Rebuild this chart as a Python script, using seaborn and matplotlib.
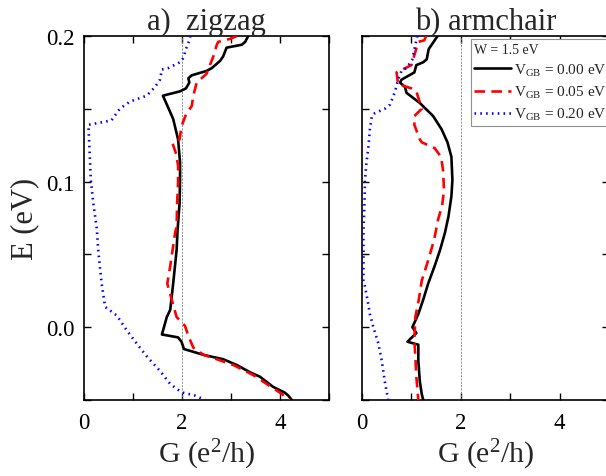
import matplotlib
matplotlib.use("Agg")
import matplotlib.pyplot as plt
from matplotlib.ticker import MultipleLocator, FixedLocator, FormatStrFormatter
import seaborn as sns
import pandas as pd

# ---- zigzag grain boundary: conductance G (e^2/h) versus energy E (eV) ----
zz_e_000 = [0.200, 0.196, 0.194, 0.192, 0.186, 0.183, 0.178, 0.176, 0.173, 0.171,
            0.168, 0.164, 0.162, 0.159, 0.153, 0.143, 0.129, 0.113, 0.101, 0.085,
            0.067, 0.053, 0.030, 0.012, 0.007, -0.005, -0.007, -0.010, -0.015, -0.019,
            -0.022, -0.026, -0.031, -0.034, -0.041, -0.045, -0.047, -0.050]
zz_g_000 = [3.35, 3.29, 3.22, 2.91, 2.84, 2.78, 2.61, 2.50, 2.20, 2.13,
            2.15, 2.08, 1.96, 1.61, 1.69, 1.82, 1.92, 1.96, 1.96, 1.95,
            1.91, 1.89, 1.82, 1.76, 1.69, 1.59, 1.92, 1.99, 2.04, 2.44,
            2.84, 3.12, 3.39, 3.59, 3.86, 4.10, 4.17, 4.24]

zz_e_005 = [0.200, 0.198, 0.196, 0.194, 0.186, 0.180, 0.174, 0.168, 0.159, 0.152,
            0.146, 0.138, 0.129, 0.126, 0.119, 0.111, 0.099, 0.085, 0.069, 0.065,
            0.042, 0.030, 0.019, 0.007, 0.001, -0.006, -0.014, -0.019, -0.022, -0.026,
            -0.033, -0.039, -0.045, -0.050]
zz_g_005 = [3.12, 2.98, 2.74, 2.71, 2.64, 2.57, 2.50, 2.30, 2.23, 2.20,
            2.08, 1.99, 1.95, 1.81, 1.88, 1.92, 1.92, 1.90, 1.89, 1.86,
            1.76, 1.70, 1.79, 1.89, 2.06, 2.13, 2.23, 2.44, 2.71, 3.05,
            3.46, 3.73, 4.00, 4.20]

zz_e_020 = [0.200, 0.197, 0.191, 0.185, 0.182, 0.178, 0.177, 0.170, 0.165, 0.159,
            0.155, 0.150, 0.142, 0.139, 0.124, 0.101, 0.085, 0.068, 0.053, 0.030,
            0.014, 0.008, -0.002, -0.011, -0.020, -0.030, -0.039, -0.043, -0.045, -0.047,
            -0.050]
zz_g_020 = [2.17, 2.15, 2.08, 2.03, 1.96, 1.72, 1.59, 1.55, 1.45, 1.28,
            0.94, 0.73, 0.56, 0.09, 0.11, 0.14, 0.19, 0.26, 0.29, 0.36,
            0.43, 0.67, 0.87, 1.07, 1.28, 1.55, 1.76, 1.92, 2.03, 2.27,
            2.47]

# ---- armchair grain boundary ----
ac_e_000 = [0.200, 0.194, 0.191, 0.184, 0.182, 0.180, 0.175, 0.170, 0.168, 0.165,
            0.161, 0.154, 0.145, 0.136, 0.127, 0.117, 0.101, 0.090, 0.076, 0.065,
            0.053, 0.042, 0.030, 0.019, 0.009, 0.000, -0.004, -0.010, -0.012, -0.023,
            -0.037, -0.046, -0.050]
ac_g_000 = [1.53, 1.41, 1.35, 1.31, 1.24, 1.10, 1.06, 0.80, 0.77, 0.87,
            0.90, 1.17, 1.44, 1.61, 1.73, 1.81, 1.83, 1.81, 1.75, 1.68,
            1.58, 1.47, 1.34, 1.24, 1.14, 1.02, 1.10, 0.92, 1.14, 1.14,
            1.17, 1.21, 1.24]

ac_e_005 = [0.200, 0.197, 0.196, 0.188, 0.180, 0.175, 0.167, 0.164, 0.162, 0.150,
            0.145, 0.139, 0.129, 0.127, 0.123, 0.117, 0.108, 0.094, 0.083, 0.074,
            0.060, 0.046, 0.032, 0.019, 0.007, -0.009, -0.020, -0.034, -0.050]
ac_g_005 = [1.30, 1.26, 1.14, 1.07, 1.00, 0.70, 0.73, 1.00, 1.10, 1.21,
            1.06, 1.06, 1.17, 1.21, 1.47, 1.60, 1.64, 1.66, 1.62, 1.54,
            1.46, 1.34, 1.21, 1.15, 1.08, 1.06, 1.08, 1.10, 1.14]

ac_e_020 = [0.200, 0.197, 0.191, 0.184, 0.178, 0.176, 0.170, 0.162, 0.153, 0.150,
            0.147, 0.145, 0.136, 0.124, 0.113, 0.101, 0.085, 0.067, 0.032, 0.028,
            0.019, 0.009, 0.000, -0.011, -0.023, -0.037, -0.050]
ac_g_020 = [1.12, 1.10, 1.06, 1.02, 0.90, 0.80, 0.73, 0.67, 0.57, 0.46,
            0.26, 0.20, 0.16, 0.13, 0.09, 0.06, 0.05, 0.03, 0.03, 0.06,
            0.11, 0.16, 0.23, 0.33, 0.40, 0.46, 0.53]

series_labels = [r"V$_{\mathrm{GB}}$ = 0.00 eV",
                 r"V$_{\mathrm{GB}}$ = 0.05 eV",
                 r"V$_{\mathrm{GB}}$ = 0.20 eV"]
panel_titles = ["a)  zigzag", "b) armchair"]
legend_title = "W = 1.5 eV"

sns.set_style("ticks")
plt.rcParams["font.family"] = ["Liberation Serif", "DejaVu Serif"]
plt.rcParams["mathtext.fontset"] = "custom"
plt.rcParams["mathtext.rm"] = "Liberation Serif"
plt.rcParams["mathtext.it"] = "Liberation Serif:italic"
plt.rcParams["mathtext.bf"] = "Liberation Serif:bold"

styles = [dict(color="black", linestyle="-", linewidth=1.9),
          dict(color="#ff0000", linestyle=(0, (4.0, 2.4)), linewidth=1.9),
          dict(color="#0000ff", linestyle=(0, (0.6, 1.6)), linewidth=1.9)]

fig = plt.figure(figsize=(6.06, 4.77), dpi=100)
ax_l = fig.add_axes([84 / 606, 1 - 401 / 477, 245 / 606, 364 / 477])
ax_r = fig.add_axes([362 / 606, 1 - 401 / 477, 247 / 606, 364 / 477])

panels = [
    (ax_l, [(zz_e_000, zz_g_000), (zz_e_005, zz_g_005), (zz_e_020, zz_g_020)]),
    (ax_r, [(ac_e_000, ac_g_000), (ac_e_005, ac_g_005), (ac_e_020, ac_g_020)]),
]

for idx, (ax, curves) in enumerate(panels):
    ax.axvline(2, color="#808080", linestyle=(0, (2.5, 1.5)), linewidth=0.6, zorder=1)
    for (e_vals, g_vals), lab, st in zip(curves, series_labels, styles):
        df = pd.DataFrame({"G": g_vals, "E": e_vals})
        sns.lineplot(data=df, x="G", y="E", sort=False, estimator=None,
                     ax=ax, label=lab, zorder=3, **st)
    ax.set_xlim(0, 5)
    ax.set_ylim(-0.05, 0.2)
    ax.xaxis.set_major_locator(FixedLocator([0, 2, 4]))
    ax.xaxis.set_minor_locator(FixedLocator([1, 3, 5]))
    ax.yaxis.set_major_locator(MultipleLocator(0.1))
    ax.yaxis.set_minor_locator(MultipleLocator(0.05))
    ax.tick_params(which="both", direction="in", top=True, right=True,
                   length=5, width=1.0, colors="black", labelsize=16.5)
    ax.tick_params(axis="x", which="major", pad=8.5)
    ax.tick_params(axis="y", which="major", pad=7)
    ax.yaxis.set_major_formatter(FormatStrFormatter("%.1f"))
    for sp in ax.spines.values():
        sp.set_visible(True)
        sp.set_linewidth(1.2)
        sp.set_color("black")
    ax.set_xlabel(r"G (e$^{2}$/h)", fontsize=21.5, labelpad=3)
    ax.set_title(panel_titles[idx], fontsize=22, pad=5)
    ax.get_legend().remove()

ax_l.set_ylabel("E (eV)", fontsize=22, labelpad=5)
ax_r.set_ylabel("")
ax_r.tick_params(axis="y", labelleft=False)

handles, labels = ax_r.get_legend_handles_labels()
leg = ax_r.legend(handles, labels, title=legend_title, loc="upper left",
                  bbox_to_anchor=(0.44, 0.992), fontsize=11, title_fontsize=10,
                  alignment="left", frameon=True, fancybox=False, framealpha=1,
                  edgecolor="#909090", borderpad=0.25, borderaxespad=0,
                  handlelength=2.4, handletextpad=0.2, labelspacing=0.4)
leg.get_frame().set_linewidth(0.8)

fig.savefig("out.png", dpi=100)
